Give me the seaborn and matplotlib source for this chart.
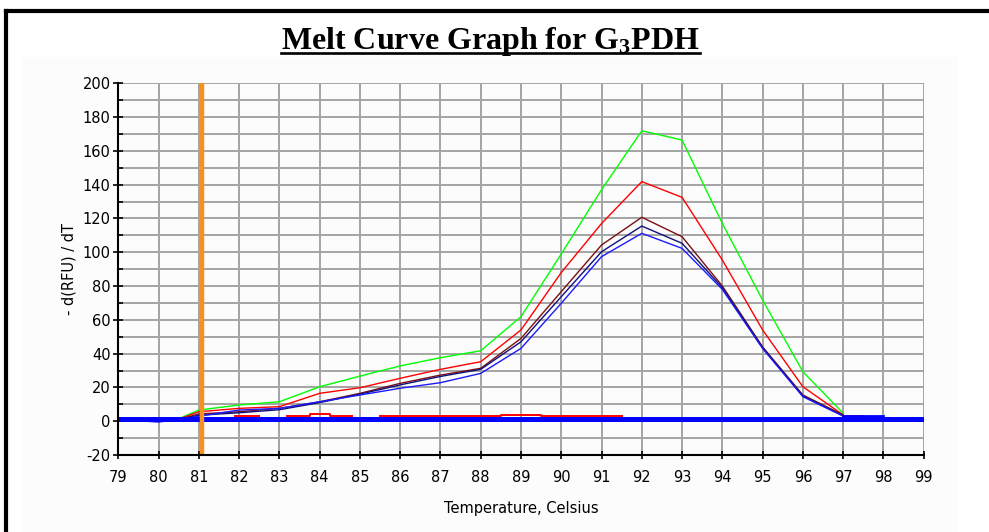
import numpy as np
import pandas as pd
import matplotlib
matplotlib.use("Agg")
import matplotlib.pyplot as plt
from matplotlib.lines import Line2D
from matplotlib.patches import Rectangle
import seaborn as sns

# ---------------- data ----------------
temps = [79, 80, 80.5, 81, 82, 83, 84, 85, 86, 87, 88, 89, 90, 91, 92, 93, 94, 95, 96, 97]
green = [1, 1, 1.5, 6.6, 9.6, 11.5, 20.4, 26.7, 32.7, 37.6, 41.7, 61.9, 99, 137, 171.9, 166.4, 117, 71.7, 29.3, 4.7]
red = [1, 1, 1.2, 5.6, 7.6, 8.6, 16.5, 19.8, 25.4, 30.7, 35.2, 54, 88, 117, 141.8, 132.5, 95.4, 54, 20.4, 3.7]
maroon = [1, 1, 1, 4.3, 5.6, 7.6, 11.5, 16.5, 22.4, 27.3, 31.3, 49, 76.7, 104.3, 120.7, 109.2, 80, 44, 15.5, 3.7]
navy = [1, 1, 1, 3.5, 5.0, 6.8, 11, 16, 21.5, 26.5, 30.7, 47, 73.7, 100.3, 115.5, 105.3, 79, 43.5, 15, 3.3]
blue = [1, -0.5, 1, 3, 6.6, 7.6, 11.5, 15.5, 19.5, 22.8, 28.3, 43.1, 69.8, 97.4, 111.2, 102.3, 78, 43, 14.5, 3]

red_tail_x = [97, 97.5]
red_tail_y = [3.3, 3.3]
blue_tail_x = [97, 98]
blue_tail_y = [3.0, 3.0]

low_red_x = [81.9, 82.5, np.nan, 83.2, 83.75, 83.75, 84.25, 84.25, 84.8, np.nan,
             85.5, 88.5, 88.5, 89.5, 89.5, 91.5]
low_red_y = [3.0, 3.0, np.nan, 3.0, 3.0, 4.3, 4.3, 3.0, 3.0, np.nan,
             3.0, 3.0, 3.8, 3.8, 3.0, 3.0]

base_x = [79, 99]
base_y = [1.2, 1.2]

marker_temp = 81.07

x_ticks = list(range(79, 100))
y_ticks = list(range(-20, 201, 20))
y_minor = list(range(-10, 200, 20))

title_text = r"Melt Curve Graph for G$_\mathbf{3}$PDH"
xlabel = "Temperature, Celsius"
ylabel = "- d(RFU) / dT"

# ---------------- style ----------------
plt.rcParams["font.family"] = ["DejaVu Sans"]
plt.rcParams["axes.unicode_minus"] = False
plt.rcParams["mathtext.fontset"] = "custom"
plt.rcParams["mathtext.rm"] = "Liberation Serif:bold"
plt.rcParams["mathtext.it"] = "Liberation Serif:bold"
plt.rcParams["mathtext.bf"] = "Liberation Serif:bold"

fig = plt.figure(figsize=(9.89, 5.32), dpi=100)
fig.patch.set_facecolor("white")

W, H = 989.0, 532.0
# light panel
fig.add_artist(Rectangle((22 / W, 0), (957 - 22) / W, 1 - 57 / H, transform=fig.transFigure,
                         facecolor="#fcfcfc", edgecolor="none", zorder=0))
# frame (left + top)
fig.add_artist(Line2D([5.5 / W, 5.5 / W], [0, 1 - 11 / H], transform=fig.transFigure,
                      color="black", lw=3.0, solid_capstyle="projecting"))
fig.add_artist(Line2D([5.5 / W, 1.0], [1 - 11 / H, 1 - 11 / H], transform=fig.transFigure,
                      color="black", lw=3.0, solid_capstyle="projecting"))

ax = fig.add_axes([118.3 / W, 1 - 455 / H, (923.7 - 118.3) / W, (455 - 83.3) / H])
ax.set_facecolor("none")

series = [("green", green, "#00ff00"), ("red", red, "#ff0000"),
          ("maroon", maroon, "#7a1010"), ("navy", navy, "#10107a"),
          ("blue", blue, "#1a1aff")]
for name, vals, col in series:
    df = pd.DataFrame({"T": temps, "v": vals})
    sns.lineplot(data=df, x="T", y="v", ax=ax, color=col, lw=1.0, sort=False,
                 estimator=None, zorder=3)

sns.lineplot(x=red_tail_x, y=red_tail_y, ax=ax, color="#ff0000", lw=2.0, estimator=None, zorder=3)
sns.lineplot(x=blue_tail_x, y=blue_tail_y, ax=ax, color="#0000ff", lw=2.0, estimator=None, zorder=3)

ax.plot(base_x, base_y, color="#0000ff", lw=3.6, zorder=4, solid_capstyle="butt")
ax.plot(low_red_x, low_red_y, color="#ff0000", lw=1.4, zorder=5)

ax.axvline(marker_temp, color="#f7901e", lw=3.2, zorder=6)

ax.set_xlim(79, 99)
ax.set_ylim(-20, 200)
ax.set_xticks(x_ticks)
ax.set_yticks(y_ticks)
ax.set_yticks(y_minor, minor=True)
ax.grid(True, which="major", color="#a4a4a4", lw=1.4, zorder=1)
ax.grid(True, which="minor", axis="y", color="#a4a4a4", lw=1.4, zorder=1)
ax.set_axisbelow(True)

for s in ["top", "right"]:
    ax.spines[s].set_visible(False)
for s in ["left", "bottom"]:
    ax.spines[s].set_color("black")
    ax.spines[s].set_linewidth(1.5)
    ax.spines[s].set_zorder(7)

ax.tick_params(axis="y", which="major", direction="inout", length=7, width=1.2,
               labelsize=10.5, pad=2, colors="black")
ax.tick_params(axis="y", which="minor", direction="in", length=3.5, width=1.2)
ax.tick_params(axis="x", which="major", direction="inout", length=6, width=1.2,
               labelsize=10.5, pad=8, colors="black")

ax.set_xlabel(xlabel, fontsize=10.5, labelpad=11)
ax.set_ylabel(ylabel, fontsize=10.5, labelpad=4)

t = fig.text(490.5 / W, 1 - 49 / H, title_text, ha="center", va="baseline",
             fontsize=23, fontfamily="Liberation Serif", fontweight="bold")
fig.canvas.draw()
bb = t.get_window_extent(renderer=fig.canvas.get_renderer())
fig.add_artist(Line2D([bb.x0 / W, bb.x1 / W], [1 - 53 / H, 1 - 53 / H],
                      transform=fig.transFigure, color="black", lw=1.9))

fig.savefig("out.png", dpi=100)
